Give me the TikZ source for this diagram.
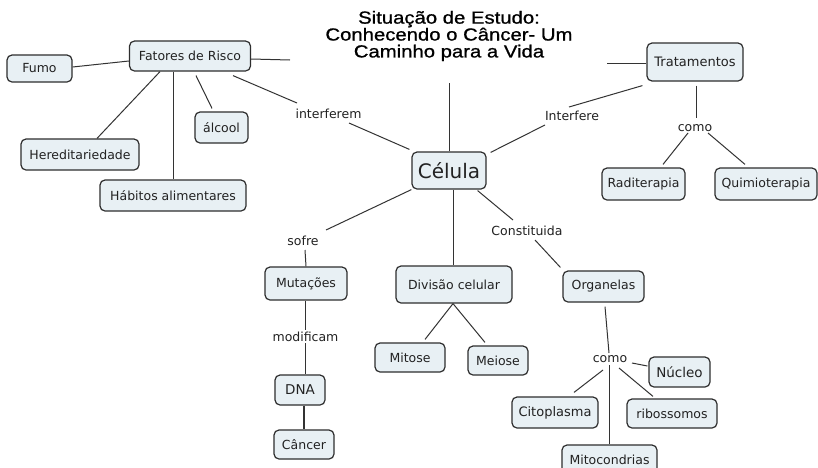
\documentclass[tikz,border=0pt]{standalone}
\usepackage{fontspec}
\usetikzlibrary{calc}
\newfontfamily\nodefam{DejaVu Sans}
\newfontfamily\titlefam[FakeStretch=1.16,FakeBold=0.9]{Liberation Sans}
\definecolor{boxfill}{HTML}{E8F0F4}
\definecolor{boxline}{HTML}{2E2E2E}
\definecolor{conline}{HTML}{333333}
\definecolor{txt}{HTML}{222222}
\tikzset{
  box/.style={draw=boxline, fill=boxfill, rounded corners=5pt, line width=1.2pt,
    inner sep=0pt, text=txt, font={\nodefam\fontsize{12.5}{15}\selectfont}},
  lbl/.style={inner sep=0pt, text=txt, font={\nodefam\fontsize{12.5}{15}\selectfont}},
  con/.style={draw=conline, line width=1pt},
}
\begin{document}
\begin{tikzpicture}[x=1pt,y=-1pt]
\useasboundingbox[fill=white] (0,0) rectangle (818,467);
% title
\node[inner sep=0pt, align=center, text=black,
  font={\titlefam\fontsize{17.5}{16.9}\selectfont}] (title) at (449,36)
  {Situação de Estudo:\\Conhecendo o Câncer- Um\\Caminho para a Vida};
\coordinate (tL) at (290,60);
\coordinate (tR) at (607,63);
\coordinate (tC) at (449,83);
% boxes
\node[box, minimum width=65pt, minimum height=27pt] (fumo) at (39.5,68.5) {Fumo};
\node[box, minimum width=121pt, minimum height=30pt] (fat) at (190,56) {Fatores de Risco};
\node[box, minimum width=53pt, minimum height=31pt] (alc) at (221.5,127.5) {álcool};
\node[box, minimum width=118pt, minimum height=31pt] (her) at (80,154.5) {Hereditariedade};
\node[box, minimum width=146pt, minimum height=31pt] (hab) at (173,195.5) {Hábitos alimentares};
\node[box, minimum width=96pt, minimum height=38pt, font={\nodefam\fontsize{13}{15}\selectfont}] (trat) at (695,62) {Tratamentos};
\node[box, minimum width=83pt, minimum height=32pt] (rad) at (643.5,184) {Raditerapia};
\node[box, minimum width=102pt, minimum height=32pt] (qui) at (766,184) {Quimioterapia};
\node[box, minimum width=74pt, minimum height=37pt, font={\nodefam\fontsize{20}{24}\selectfont}] (cel) at (449,170.5) {Célula};
\node[box, minimum width=82pt, minimum height=33pt] (mut) at (306,283.5) {Mutações};
\node[box, minimum width=50pt, minimum height=30pt, font={\nodefam\fontsize{13.5}{15}\selectfont}] (dna) at (300,390) {DNA};
\node[box, minimum width=60pt, minimum height=29pt] (can) at (304,444.5) {Câncer};
\node[box, minimum width=116pt, minimum height=37pt] (div) at (454,284.5) {Divisão celular};
\node[box, minimum width=70pt, minimum height=29pt] (mit) at (410,357.5) {Mitose};
\node[box, minimum width=60pt, minimum height=29pt] (mei) at (498,360.5) {Meiose};
\node[box, minimum width=81pt, minimum height=31pt] (org) at (603.5,286.5) {Organelas};
\node[box, minimum width=61pt, minimum height=30pt, font={\nodefam\fontsize{13.5}{15}\selectfont}] (nuc) at (679.5,372) {Núcleo};
\node[box, minimum width=86pt, minimum height=31pt, font={\nodefam\fontsize{13}{15}\selectfont}] (cit) at (555,412.5) {Citoplasma};
\node[box, minimum width=90pt, minimum height=29pt] (rib) at (672,413.5) {ribossomos};
\node[box, minimum width=95pt, minimum height=30pt] (mtc) at (609.5,460) {Mitocondrias};
% link labels
\node[lbl] (intf) at (328.5,114) {interferem};
\node[lbl] (intf2) at (572,116) {Interfere};
\node[lbl] (como1) at (695,128) {como};
\node[lbl] (sofre) at (303,241) {sofre};
\node[lbl] (modif) at (305.5,337) {modificam};
\node[lbl] (const) at (527,231) {Constituida};
\node[lbl] (como2) at (610,359) {como};
% connectors
\draw[con] ($(fumo.east)+(0,-1.5)$) -- ($(fat.west)+(0,5)$);
\draw[con] ($(fat.south)+(-30,0)$) -- ($(her.north)+(17,0)$);
\draw[con] ($(fat.south)+(-17,0)$) -- (hab.north);
\draw[con] ($(fat.south)+(6,4)$) -- ($(alc.north)+(-9.5,-3)$);
\draw[con] ($(fat.south)+(43,4)$) -- ($(intf)+(-31.5,-11)$);
\draw[con] ($(intf)+(20.5,9)$) -- ($(cel.north west)+(-2,-2)$);
\draw[con] ($(fat.east)+(0,3)$) -- (tL);
\draw[con] ($(trat.west)+(0,1)$) -- (tR);
\draw[con] (cel.north) -- (tC);
\draw[con] ($(cel.north east)+(4,1)$) -- ($(intf2)+(-27,9)$);
\draw[con] ($(intf2)+(-3,-9)$) -- ($(trat.south west)+(-4,4)$);
\draw[con] ($(trat.south)+(1,4)$) -- ($(como1)+(1,-10)$);
\draw[con] ($(como1)+(-7,5)$) -- ($(rad.north)+(19.5,-3)$);
\draw[con] ($(como1)+(13,5)$) -- ($(qui.north)+(-21,-3)$);
\draw[con] (cel.south west) -- ($(sofre)+(23,-11)$);
\draw[con] ($(sofre)+(2,9)$) -- (mut.north);
\draw[con] ($(mut.south)+(-1,0)$) -- ($(modif)+(-0.5,-7)$);
\draw[con] ($(modif)+(-0.5,6)$) -- ($(dna.north)+(5,0)$);
\draw[con, line width=1.6pt] ($(dna.south)+(4,0)$) -- (can.north);
\draw[con] ($(cel.south)+(4,0)$) -- ($(div.north)+(-1,0)$);
\draw[con] ($(div.south)+(-1,0)$) -- ($(mit.north)+(15,-3)$);
\draw[con] ($(div.south)+(-1,0)$) -- ($(mei.north)+(-13,-3)$);
\draw[con] ($(cel.south east)+(-9,1)$) -- ($(const)+(-14,-11)$);
\draw[con] ($(const)+(8,9)$) -- ($(org.north west)+(-2,-3)$);
\draw[con] ($(org.south)+(1.5,4)$) -- ($(como2)+(-1,-6)$);
\draw[con] ($(como2)+(22,4)$) -- ($(nuc.west)+(-1,-6)$);
\draw[con] ($(como2)+(-7,11)$) -- ($(cit.north)+(19,-4)$);
\draw[con] ($(como2)+(-1,6)$) -- ($(mtc.north)+(-0.5,0)$);
\draw[con] ($(como2)+(9,9)$) -- ($(rib.north)+(-19,-2)$);
\end{tikzpicture}
\end{document}
